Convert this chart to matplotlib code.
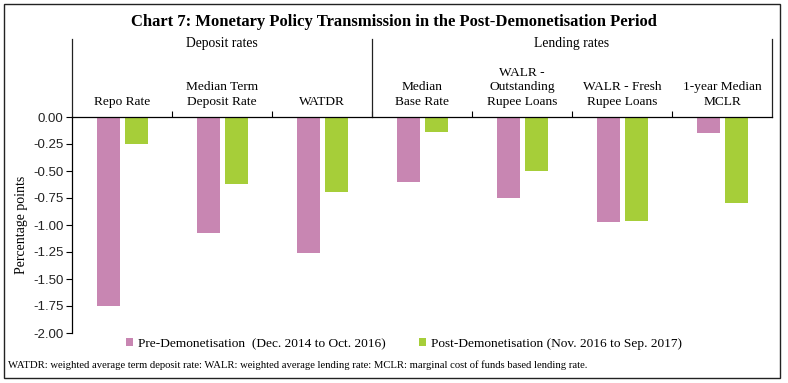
import matplotlib
matplotlib.use("Agg")
import matplotlib.pyplot as plt
import numpy as np
from matplotlib.patches import Rectangle
from matplotlib.lines import Line2D

categories = ["Repo Rate", "Median Term\nDeposit Rate", "WATDR", "Median\nBase Rate",
              "WALR -\nOutstanding\nRupee Loans", "WALR - Fresh\nRupee Loans", "1-year Median\nMCLR"]
pre_demon = [-1.75, -1.07, -1.26, -0.60, -0.75, -0.97, -0.15]
post_demon = [-0.25, -0.62, -0.69, -0.14, -0.50, -0.96, -0.80]
groups = ["Deposit rates", "Lending rates"]
group_span = [(0, 3), (3, 7)]
yticks = [0.0, -0.25, -0.5, -0.75, -1.0, -1.25, -1.5, -1.75, -2.0]
series_labels = ["Pre-Demonetisation  (Dec. 2014 to Oct. 2016)",
                 "Post-Demonetisation (Nov. 2016 to Sep. 2017)"]
title = "Chart 7: Monetary Policy Transmission in the Post-Demonetisation Period"
footnote = "WATDR: weighted average term deposit rate: WALR: weighted average lending rate: MCLR: marginal cost of funds based lending rate."

PINK = "#C886B2"
GREEN = "#A6CE39"
SERIF = ["Liberation Serif", "DejaVu Serif"]
SANS = ["Liberation Sans", "DejaVu Sans"]

W, H = 788, 383
fig = plt.figure(figsize=(W / 100, H / 100), dpi=100)

def fx(px):
    return px / W

def fy(py):
    return 1 - py / H

# outer frame
fig.add_artist(Rectangle((fx(4), fy(378)), fx(776), (378 - 4) / H, fill=False,
                         edgecolor="#222222", linewidth=1.0, transform=fig.transFigure))

ax = fig.add_axes([fx(72), fy(333), fx(700), (333 - 117) / H])
x = np.arange(len(categories)) + 0.5
bw = 0.23
ax.bar(x - 0.14, pre_demon, bw, color=PINK, label=series_labels[0])
ax.bar(x + 0.14, post_demon, bw, color=GREEN, label=series_labels[1])
ax.set_xlim(0, len(categories))
ax.set_ylim(-2.0, 0.0)

for s in ["right", "bottom"]:
    ax.spines[s].set_visible(False)
ax.spines["left"].set_linewidth(0.9)
ax.spines["top"].set_linewidth(0.9)

ax.set_yticks(yticks)
ax.set_yticklabels([f"{v:.2f}" for v in yticks], fontfamily=SANS, fontsize=9.5, color="#222222")
ax.tick_params(axis="y", length=4, width=0.8, pad=2)
ax.xaxis.tick_top()
ax.set_xticks(np.arange(1, len(categories)))
ax.set_xticklabels([])
ax.tick_params(axis="x", length=4, width=0.8, direction="out")

ax.set_ylabel("Percentage points", fontfamily=SERIF, fontsize=10, labelpad=4)

# header
tr = ax.get_xaxis_transform()
px_per_ax = 216.0

def ay(py):
    return 1 + (117 - py) / px_per_ax

for xv in [0, 3, 7]:
    ax.add_line(Line2D([xv, xv], [1, ay(39)], transform=tr, color="#222222",
                       linewidth=0.9, clip_on=False))
for g, (a, b) in zip(groups, group_span):
    ax.text((a + b) / 2, ay(43), g, transform=tr, ha="center", va="center",
            fontfamily=SERIF, fontsize=9.8)
for xi, c in zip(x, categories):
    ax.text(xi, ay(105), c, transform=tr, ha="center", va="baseline",
            fontfamily=SERIF, fontsize=9.6, linespacing=1.3)

fig.text(0.5, fy(22), title, ha="center", va="center", fontfamily=SERIF,
         fontsize=12, fontweight="bold")

leg = fig.legend(loc="center", bbox_to_anchor=(fx(404), fy(344)), ncol=2, frameon=False,
                 prop={"family": SERIF, "size": 9.6}, handlelength=0.55, handleheight=0.55,
                 handletextpad=0.35, columnspacing=2.5)

fig.text(fx(8), fy(365), footnote, ha="left", va="center", fontfamily=SERIF, fontsize=7.65)

fig.savefig("out.png", dpi=100)
